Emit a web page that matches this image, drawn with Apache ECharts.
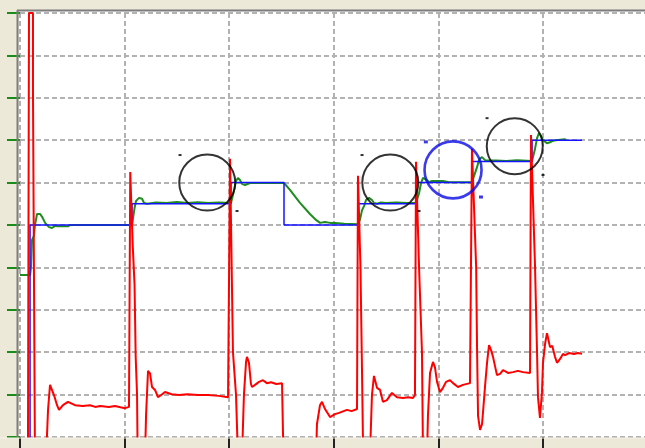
<!DOCTYPE html>
<html>
<head>
<meta charset="utf-8">
<script src="https://cdn.jsdelivr.net/npm/echarts@6/dist/echarts.min.js"></script>
<style>
  html, body { margin: 0; padding: 0; background: #ECE9D8; }
  #chart { width: 645px; height: 448px; }
</style>
</head>
<body>
<div id="chart"></div>
<script>
// setpoint (blue step), [x, y]
const setpoint = [
  [9.6, -5], [9.6, 50], [107.1, 55], [201.7, 60], [252.4, 50],
  [323.1, 55], [378.6, 60], [432.1, 65], [489.5, 70], [537.3, 70]
];

// process value (green)
const processValue = [
  [0, 38.2], [9.6, 38.2], [10.5, 40], [11.5, 46.5], [13.4, 47.5], [14.3, 50],
  [16.3, 52.6], [19.1, 52.6], [21, 52], [24, 50.5], [27.7, 49.5], [30.6, 49.3],
  [33.5, 49.8], [36, 49.7], [45.9, 49.7], [48, 50], [107.1, 50],
  [108, 51.5], [109.5, 54], [111, 55.7], [113.8, 56.4], [116.7, 56.2], [118.6, 55.2],
  [121.5, 55], [130, 55.3], [140, 55.2], [150, 55.4], [160, 55.2], [170, 55.35],
  [180, 55.2], [190, 55.3], [201.7, 55.2],
  [202.6, 55.5], [204.5, 58], [206.5, 60.4], [208.4, 61.1], [210.3, 60.6], [212.2, 59.7],
  [215.1, 59.4], [217, 59.6], [219.9, 59.9], [252.4, 59.9],
  [258.1, 58.3], [267.7, 55.2], [277.2, 52.6], [283, 51.2], [286.8, 50.5], [291.6, 50.7],
  [296.4, 50.5], [301.1, 50.5], [310, 50.3], [323.1, 50.2],
  [324, 50.7], [325, 51.2], [327, 53.5], [329, 54.5], [330.8, 55.9], [333.7, 56.4],
  [336.5, 55.9], [338.4, 55.2], [341.3, 55], [345, 55.3], [350, 55.2], [360, 55.3],
  [370, 55.2], [378.6, 55.2],
  [379.5, 55.5], [381.5, 57.5], [383.4, 59.9], [385.3, 61.1], [387.2, 61.3], [389.1, 60.6],
  [391, 60.1], [393.9, 60.4], [404.4, 60.4], [410, 60.1], [432.1, 60.1],
  [433.1, 60.3], [437, 63.7], [439, 65.5], [441.7, 66], [444.6, 65.3], [446.5, 64.9],
  [455, 65.2], [465, 65.1], [475, 65.25], [489.5, 65.1],
  [490.4, 65.3], [492.4, 68], [494.3, 70.5], [496.2, 71.7], [498.1, 71], [500, 70],
  [503.8, 69.3], [506.7, 69.5], [508.8, 69.8], [512, 70], [521.1, 70.2], [522, 70]
];

// controller output (red)
const output = [
  [7.6, -5], [8.6, 100], [12.4, 100], [12.4, 81.8], [13.4, 81.8], [14.3, -5],
  [24.9, -5], [26.8, 6.4], [28.7, 12.3], [30.6, 12.7], [32.5, 9.9], [35.4, 7.5],
  [37.3, 6.4], [41.1, 7.5], [45.9, 8.3], [52.6, 7.5], [60, 7.3], [66.9, 7.5],
  [72, 7.1], [76.5, 7.3], [85, 7.1], [90.8, 7.3], [96, 7.0], [100.4, 6.8], [104.2, 7.1],
  [105.4, 62.5], [106.8, 62.5], [107.8, 45], [109.5, 36], [110.6, 18.9], [111.9, 10], [112.5, -5],
  [119.5, -5], [120.5, 5], [122.4, 15.6], [124.3, 15], [126.2, 11.8], [129.1, 11.1],
  [131.9, 9.4], [135, 9.9], [138.6, 10.6], [145, 10.1], [152, 9.9], [160, 10.1],
  [170, 9.9], [180, 9.9], [190, 9.7], [198.9, 9.4],
  [200.8, 65.6], [202.2, 65.3], [203.6, 20], [206.5, 10], [208.4, -5],
  [212.2, -5], [214.1, 10], [216.1, 17.7], [217, 18.9], [218.9, 17.5], [220.8, 12.5],
  [221.8, 11.8], [224.7, 12.3], [228.5, 13], [232.3, 13.4], [236, 12.7], [240, 12.9],
  [245, 12.5], [250.5, 12.7], [251.4, 12.5], [251.9, -5],
  [283, -5], [283.9, 3], [286.8, 7.5], [288.7, 8.3], [291.6, 6.6], [296.4, 4.7],
  [301.1, 5.4], [305, 5.7], [312.6, 6.4], [317, 6.1], [322.2, 6.6],
  [323.1, 61.6], [324.6, 61.3], [325.5, 40], [327, 15], [328.1, -5],
  [334.5, -5], [336.5, 10], [338.4, 14.4], [339.4, 14.4], [341.3, 11.6], [344.2, 11.1],
  [347, 8.3], [350.8, 8.7], [355.6, 10.4], [360.4, 9.4], [366.2, 9.2], [371, 9.4],
  [375.7, 9.2], [377.6, 9.9],
  [378.6, 64.9], [380, 64.9], [381.5, 40], [384.3, 20], [385.3, -5],
  [389.1, -5], [390, 5], [392, 15.1], [394.8, 17.7], [396.7, 16.5], [398.7, 13],
  [401.5, 10.6], [404.4, 11.6], [407.3, 13], [411.1, 13.4], [414, 12.7], [418.7, 11.8],
  [423.5, 12.3], [430.2, 12.7], [431.2, 13],
  [432.1, 68], [433.6, 68], [436.1, 40], [437, 20], [437.9, 5], [439.8, 1.7], [441.7, 3],
  [442.6, 5.7], [444.6, 12], [446.5, 17.5], [448.4, 21.7], [450.3, 20.5], [452.2, 18.9],
  [456, 14.6], [458.9, 14.9], [461.8, 15.8], [466.5, 15.1], [471.3, 15.3], [476, 15.6],
  [480.9, 15.3], [487.6, 15.1],
  [488.5, 71.2], [490, 71.2], [492.4, 40], [494.3, 20], [495.2, 9.4], [497.1, 4.5],
  [498.1, 4.7], [499, 10.4], [500, 17.5], [502, 22], [503.8, 24.5], [504.8, 24.3],
  [506.7, 21.2], [508.8, 21.5], [511.5, 18.9], [513.4, 17.5], [516.3, 18.4], [519.1, 19.6],
  [521.1, 19.3], [524.9, 19.8], [529.6, 19.6], [533.5, 19.8], [537.3, 19.6]
];

// annotation circles and their handles
const blackCircles = [[179, 60], [354, 60], [473, 68.6]];
const blueCircles = [[414, 63]];
const blackHandles = [[153, 66.5], [207.5, 53.3], [327, 66.5], [381.5, 53.3], [446.5, 75.2], [500, 61.8]];
const blueHandles = [[388, 69.6], [440.7, 56.6]];

const xMin = 0, xMax = 600, xStep = 100;
const yMin = 0, yMax = 100, yStep = 10;

const chart = echarts.init(document.getElementById('chart'));

const gridLine = { show: true, lineStyle: { color: '#b2b2b2', width: 2, type: [5, 3] } };

chart.setOption({
  animation: false,
  backgroundColor: '#ECE9D8',
  grid: { left: 20, width: 627.6, top: 13, height: 424, outerBoundsMode: 'none' },
  xAxis: {
    type: 'value', min: xMin, max: xMax, interval: xStep,
    axisLine: { show: false },
    axisLabel: { show: false },
    axisTick: { show: true, length: 11, lineStyle: { color: '#222', width: 2 } },
    splitLine: gridLine
  },
  yAxis: {
    type: 'value', min: yMin, max: yMax, interval: yStep,
    axisLine: { show: false },
    axisLabel: { show: false },
    axisTick: { show: true, length: 13, lineStyle: { color: '#1a8c1a', width: 2 } },
    splitLine: gridLine
  },
  graphic: [
    { type: 'rect', z: -10, shape: { x: 19, y: 11, width: 630, height: 426 }, style: { fill: '#ffffff' } },
    { type: 'line', z: 10, shape: { x1: 17, y1: 10.5, x2: 645, y2: 10.5 }, style: { stroke: '#7d7d7d', lineWidth: 2 } },
    { type: 'line', z: 10, shape: { x1: 17.5, y1: 10, x2: 17.5, y2: 437 }, style: { stroke: '#7d7d7d', lineWidth: 2 } },
    { type: 'line', z: 10, shape: { x1: 0, y1: 438, x2: 645, y2: 438 }, style: { stroke: '#f6f4ea', lineWidth: 1 } }
  ],
  series: [
    {
      type: 'line', data: processValue, showSymbol: false, symbol: 'none',
      lineStyle: { color: '#1e8c1e', width: 2 }, z: 2
    },
    {
      type: 'line', data: setpoint, step: 'end', showSymbol: false, symbol: 'none',
      lineStyle: { color: '#1414ff', width: 1.5 }, z: 3
    },
    {
      type: 'line', data: output, showSymbol: false, symbol: 'none',
      lineStyle: { color: '#ff0000', width: 2 }, z: 4
    },
    {
      type: 'scatter', data: blackCircles, symbol: 'circle', symbolSize: 56, z: 5,
      itemStyle: { color: 'rgba(0,0,0,0)', borderColor: '#000', borderWidth: 2 }
    },
    {
      type: 'scatter', data: blueCircles, symbol: 'circle', symbolSize: 57, z: 5,
      itemStyle: { color: 'rgba(0,0,0,0)', borderColor: '#0a0ae6', borderWidth: 2.6 }
    },
    {
      type: 'scatter', data: blackHandles, symbol: 'rect', symbolSize: [3, 2], z: 5,
      itemStyle: { color: '#000' }
    },
    {
      type: 'scatter', data: blueHandles, symbol: 'rect', symbolSize: [4, 3], z: 5,
      itemStyle: { color: '#0a0ae6' }
    }
  ]
});
</script>
</body>
</html>
